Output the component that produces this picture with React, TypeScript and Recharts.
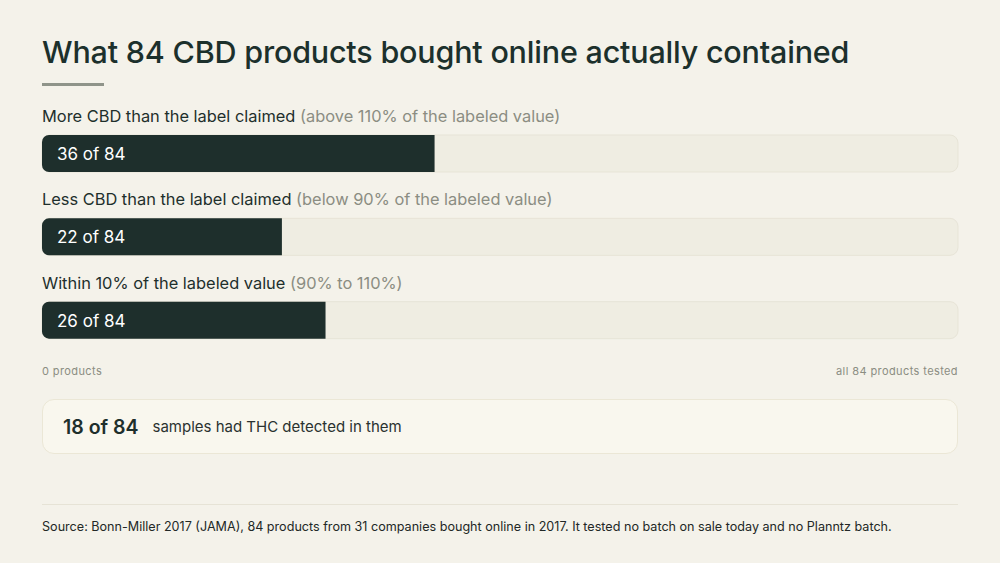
import { BarChart, Bar, XAxis, YAxis, LabelList } from "recharts";

const categories = [
  "More CBD than the label claimed",
  "Less CBD than the label claimed",
  "Within 10% of the labeled value",
];
const notes = [
  "(above 110% of the labeled value)",
  "(below 90% of the labeled value)",
  "(90% to 110%)",
];
const counts = [36, 22, 26];
const totalProducts = 84;
const thcCount = 18;

const INK = "#1e2f2c";
const MUTED = "#8b8d82";
const FONT = "Inter, 'Noto Sans', sans-serif";

const data = categories.map((name, i) => ({ name, note: notes[i], count: counts[i] }));

function BarLabel(props: any) {
  const { x, y, index } = props;
  const row = data[index];
  return (
    <g>
      <text x={x} y={y - 13} fontSize={16.4} fill={INK} fontFamily={FONT}>
        {row.name}
        <tspan fill={MUTED}> {row.note}</tspan>
      </text>
      <text x={x + 15} y={y + 25} fontSize={17} fill="#ffffff" fontFamily={FONT}>
        {`${row.count} of ${totalProducts}`}
      </text>
    </g>
  );
}

function EndTick(props: any) {
  const { x, y, payload } = props;
  const first = payload.value === 0;
  return (
    <text
      x={x}
      y={y + 5}
      fontSize={11}
      letterSpacing={0.4}
      fill={MUTED}
      fontFamily={FONT}
      textAnchor={first ? "start" : "end"}
    >
      {first ? "0 products" : `all ${totalProducts} products tested`}
    </text>
  );
}

export default function App() {
  return (
    <div
      style={{
        position: "fixed",
        top: 0,
        left: 0,
        width: 1000,
        height: 563,
        background: "#f4f2ea",
        fontFamily: FONT,
        color: INK,
        overflow: "hidden",
      }}
    >
      <div
        style={{
          position: "absolute",
          left: 42,
          top: 33,
          fontSize: 30.5,
          fontWeight: 500,
          letterSpacing: -0.2,
          color: "#1c302c",
        }}
      >
        What 84 CBD products bought online actually contained
      </div>
      <div style={{ position: "absolute", left: 42, top: 83, width: 62, height: 3, background: "#8f948a" }} />

      <div style={{ position: "absolute", left: 0, top: 0 }}>
        <BarChart
          width={1000}
          height={382}
          data={data}
          layout="vertical"
          margin={{ top: 112, right: 42, bottom: 0, left: 42 }}
        >
          <XAxis
            type="number"
            domain={[0, totalProducts]}
            ticks={[0, totalProducts]}
            axisLine={false}
            tickLine={false}
            height={20}
            tick={<EndTick />}
          />
          <YAxis type="category" dataKey="name" hide />
          <Bar
            dataKey="count"
            fill={INK}
            barSize={37}
            radius={[7, 0, 0, 7]}
            background={{ fill: "#efede2", stroke: "#e7e4d7", radius: 8 }}
            isAnimationActive={false}
          >
            <LabelList dataKey="count" content={<BarLabel />} />
          </Bar>
        </BarChart>
      </div>

      <div
        style={{
          position: "absolute",
          left: 42,
          top: 399,
          width: 914,
          height: 53,
          borderRadius: 12,
          border: "1px solid #ebe7d6",
          background: "#f9f7ee",
          display: "flex",
          alignItems: "center",
        }}
      >
        <span style={{ marginLeft: 20, fontSize: 19.5, fontWeight: 600 }}>{`${thcCount} of ${totalProducts}`}</span>
        <span style={{ marginLeft: 14, fontSize: 15, color: "#2a3230" }}>samples had THC detected in them</span>
      </div>

      <div style={{ position: "absolute", left: 42, top: 504, width: 916, height: 1, background: "#e6e3d6" }} />
      <div style={{ position: "absolute", left: 42, top: 519, fontSize: 12.6, color: "#222826" }}>
        Source: Bonn-Miller 2017 (JAMA), 84 products from 31 companies bought online in 2017. It tested no batch on sale
        today and no Planntz batch.
      </div>
    </div>
  );
}
